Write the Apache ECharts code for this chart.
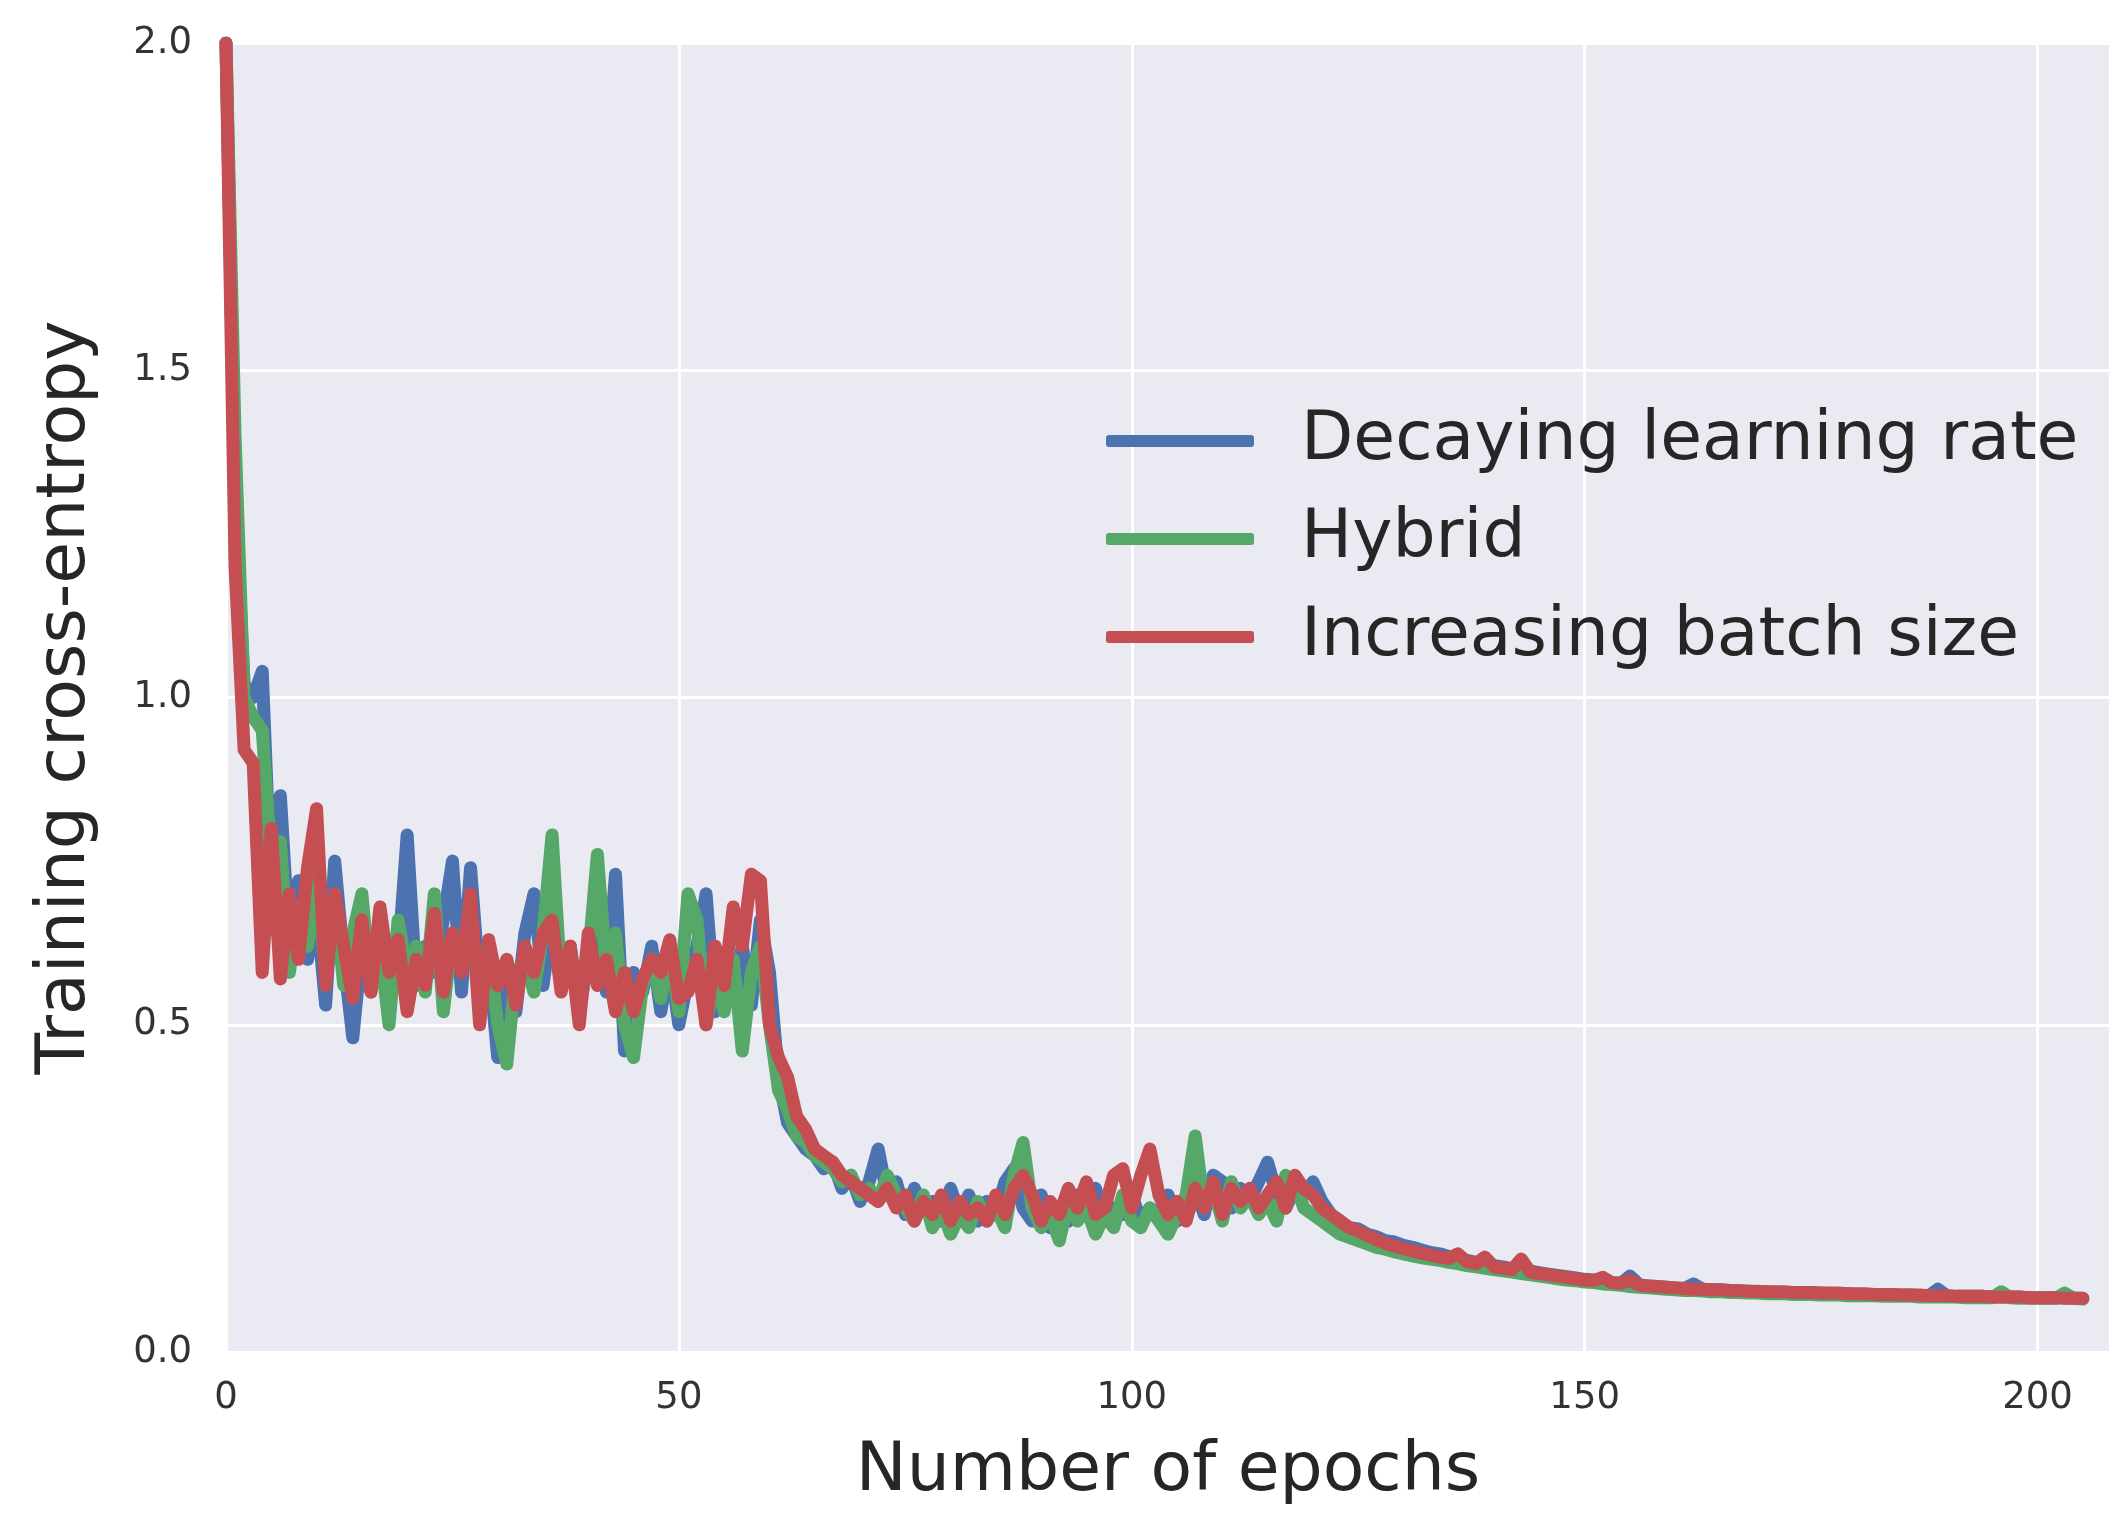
<!DOCTYPE html>
<html>
<head>
<meta charset="utf-8">
<title>Training cross-entropy</title>
<script src="https://cdn.jsdelivr.net/npm/echarts@6/dist/echarts.min.js"></script>
<style>
  html, body { margin: 0; padding: 0; background: #ffffff; }
  #chart { width: 2110px; height: 1513px; }
</style>
</head>
<body>
<div id="chart"></div>
<script>
// data, one value per epoch (0 .. 205)
const seriesNames = ['Decaying learning rate', 'Hybrid', 'Increasing batch size']
const yTicks = [0, 0.5, 1.0, 1.5, 2.0]
const xTicks = [0, 50, 100, 150, 200]

const decayingLR = [
  2.00,1.30,1.02,1.00,1.04,0.70,0.85,0.62,0.72,0.60,
  0.68,0.53,0.75,0.60,0.48,0.62,0.58,0.66,0.55,0.60,
  0.79,0.56,0.62,0.58,0.66,0.75,0.55,0.74,0.56,0.60,
  0.45,0.58,0.52,0.64,0.70,0.56,0.66,0.58,0.62,0.53,
  0.60,0.66,0.55,0.73,0.46,0.58,0.55,0.62,0.52,0.60,
  0.50,0.57,0.62,0.70,0.52,0.58,0.55,0.62,0.53,0.66,
  0.58,0.42,0.35,0.33,0.31,0.30,0.28,0.29,0.25,0.27,
  0.23,0.26,0.31,0.24,0.26,0.21,0.25,0.22,0.23,0.20,
  0.25,0.21,0.24,0.20,0.23,0.21,0.26,0.28,0.22,0.20,
  0.24,0.19,0.22,0.20,0.24,0.21,0.25,0.20,0.22,0.21,
  0.24,0.20,0.22,0.21,0.24,0.20,0.23,0.25,0.21,0.27,
  0.26,0.22,0.25,0.23,0.26,0.29,0.24,0.22,0.25,0.24,
  0.26,
  0.23,0.21,0.20,0.19,0.188,0.18,0.176,0.17,0.168,0.163,
  0.16,0.156,0.152,0.15,0.146,0.142,0.14,0.137,0.134,0.132,
  0.13,0.127,0.125,0.124,0.121,0.119,0.117,0.115,0.113,0.111,
  0.11,0.108,0.106,0.105,0.116,0.103,0.101,0.1,0.099,0.098,
  0.097,0.104,0.096,0.095,0.095,0.094,0.093,0.093,0.092,0.092,
  0.091,0.091,0.091,0.09,0.09,0.09,0.089,0.089,0.089,0.088,
  0.088,0.088,0.087,0.087,0.087,0.087,0.086,0.086,0.096,0.086,
  0.085,0.085,0.085,0.085,0.084,0.084,0.084,0.084,0.083,0.083,
  0.083,0.083,0.083,0.082,0.082
]

const hybrid = [
  2.00,1.40,1.00,0.97,0.95,0.75,0.78,0.58,0.68,0.62,
  0.72,0.58,0.70,0.56,0.64,0.70,0.55,0.62,0.50,0.66,
  0.58,0.62,0.55,0.70,0.52,0.64,0.60,0.66,0.54,0.62,
  0.50,0.44,0.58,0.60,0.55,0.64,0.79,0.56,0.62,0.52,
  0.60,0.76,0.58,0.64,0.50,0.45,0.56,0.60,0.54,0.62,
  0.52,0.70,0.66,0.50,0.58,0.52,0.60,0.46,0.58,0.62,
  0.50,0.40,0.37,0.33,0.32,0.30,0.29,0.28,0.26,0.27,
  0.24,0.25,0.23,0.27,0.24,0.22,0.20,0.24,0.19,0.22,
  0.18,0.21,0.19,0.23,0.20,0.22,0.19,0.27,0.32,0.22,
  0.19,0.21,0.17,0.23,0.20,0.22,0.18,0.21,0.19,0.24,
  0.20,0.19,0.22,0.20,0.18,0.21,0.24,0.33,0.22,0.25,
  0.20,0.26,0.22,0.24,0.21,0.23,0.20,0.27,0.26,0.22,
  0.21,
  0.2,0.19,0.18,0.175,0.17,0.165,0.16,0.157,0.153,0.15,
  0.147,0.144,0.142,0.14,0.137,0.135,0.132,0.13,0.128,0.126,
  0.124,0.122,0.12,0.118,0.116,0.114,0.112,0.11,0.109,0.107,
  0.106,0.104,0.103,0.102,0.1,0.099,0.098,0.097,0.096,0.095,
  0.094,0.094,0.093,0.092,0.092,0.091,0.091,0.09,0.09,0.089,
  0.089,0.089,0.088,0.088,0.088,0.087,0.087,0.087,0.086,0.086,
  0.086,0.086,0.085,0.085,0.085,0.085,0.084,0.084,0.084,0.084,
  0.084,0.083,0.083,0.083,0.083,0.092,0.083,0.082,0.082,0.082,
  0.082,0.082,0.09,0.082,0.081
]

const increasingBatch = [
  2.00,1.20,0.92,0.90,0.58,0.80,0.57,0.70,0.60,0.74,
  0.83,0.56,0.70,0.62,0.54,0.66,0.55,0.68,0.58,0.63,
  0.52,0.60,0.56,0.67,0.55,0.64,0.58,0.70,0.50,0.63,
  0.56,0.60,0.53,0.62,0.58,0.64,0.66,0.55,0.62,0.50,
  0.64,0.56,0.60,0.52,0.58,0.52,0.57,0.60,0.58,0.63,
  0.54,0.55,0.60,0.50,0.62,0.56,0.68,0.62,0.73,0.72,
  0.50,0.45,0.42,0.36,0.34,0.31,0.30,0.29,0.27,0.26,
  0.25,0.24,0.23,0.25,0.22,0.24,0.20,0.23,0.21,0.24,
  0.20,0.23,0.21,0.22,0.20,0.24,0.21,0.25,0.27,0.24,
  0.20,0.23,0.21,0.25,0.22,0.26,0.21,0.22,0.27,0.28,
  0.22,0.27,0.31,0.24,0.21,0.23,0.20,0.25,0.22,0.26,
  0.21,0.25,0.23,0.25,0.22,0.24,0.26,0.22,0.27,0.25,
  0.24,
  0.22,0.21,0.20,0.19,0.185,0.178,0.172,0.166,0.162,0.158,
  0.154,0.151,0.148,0.145,0.143,0.15,0.138,0.135,0.145,0.130,
  0.128,0.126,0.142,0.122,0.120,0.118,0.116,0.114,0.112,0.110,
  0.109,0.114,0.106,0.105,0.110,0.102,0.101,0.100,0.099,0.098,
  0.097,0.096,0.096,0.095,0.095,0.094,0.094,0.093,0.093,0.092,
  0.092,0.092,0.091,0.091,0.091,0.090,0.090,0.090,0.089,0.089,
  0.089,0.088,0.088,0.088,0.087,0.087,0.087,0.086,0.086,0.086,
  0.085,0.085,0.085,0.085,0.084,0.084,0.084,0.084,0.083,0.083,
  0.083,0.083,0.082,0.082,0.082
]

const seriesColors = ['#4C72B0', '#55A868', '#C44E52']
const fontFamily = 'DejaVu Sans'

// pair each value with its epoch index
function withEpochs(values) {
  return values.map((v, i) => [i, v])
}

const chart = echarts.init(document.getElementById('chart'), null, { renderer: 'canvas' })

const option = {
  backgroundColor: '#ffffff',
  animation: false,
  grid: {
    left: 226,
    right: 0,
    top: 43,
    bottom: 161,
    show: true,
    backgroundColor: '#EAEAF2',
    borderWidth: 0
  },
  legend: {
    data: seriesNames,
    orient: 'vertical',
    left: 1101,
    top: 402,
    icon: 'roundRect',
    itemWidth: 148,
    itemHeight: 12,
    itemGap: 30,
    textStyle: {
      fontFamily: fontFamily,
      fontSize: 68,
      lineHeight: 68,
      color: '#262626',
      padding: [0, 0, 0, 42]
    }
  },
  xAxis: {
    type: 'value',
    min: 0,
    max: 208,
    interval: 50,
    name: 'Number of epochs',
    nameLocation: 'middle',
    nameGap: 86,
    nameTextStyle: { fontFamily: fontFamily, fontSize: 68, color: '#262626' },
    axisLine: { show: false },
    axisTick: { show: false },
    axisLabel: {
      fontFamily: fontFamily,
      fontSize: 37,
      color: '#333333',
      margin: 28,
      showMaxLabel: false,
      formatter: v => (xTicks.indexOf(v) >= 0 ? String(v) : '')
    },
    splitLine: { show: true, lineStyle: { color: '#ffffff', width: 3 } }
  },
  yAxis: {
    type: 'value',
    min: yTicks[0],
    max: yTicks[yTicks.length - 1],
    interval: 0.5,
    name: 'Training cross-entropy',
    nameLocation: 'middle',
    nameGap: 126,
    nameTextStyle: { fontFamily: fontFamily, fontSize: 68, color: '#262626' },
    axisLine: { show: false },
    axisTick: { show: false },
    axisLabel: {
      fontFamily: fontFamily,
      fontSize: 37,
      color: '#333333',
      margin: 34,
      formatter: v => v.toFixed(1)
    },
    splitLine: { show: true, lineStyle: { color: '#ffffff', width: 3 } }
  },
  series: [decayingLR, hybrid, increasingBatch].map((values, i) => ({
    name: seriesNames[i],
    type: 'line',
    data: withEpochs(values),
    symbol: 'none',
    color: seriesColors[i],
    z: 2 + i,
    lineStyle: {
      color: seriesColors[i],
      width: 13,
      join: 'round',
      cap: 'round'
    }
  }))
}

chart.setOption(option)
</script>
</body>
</html>
